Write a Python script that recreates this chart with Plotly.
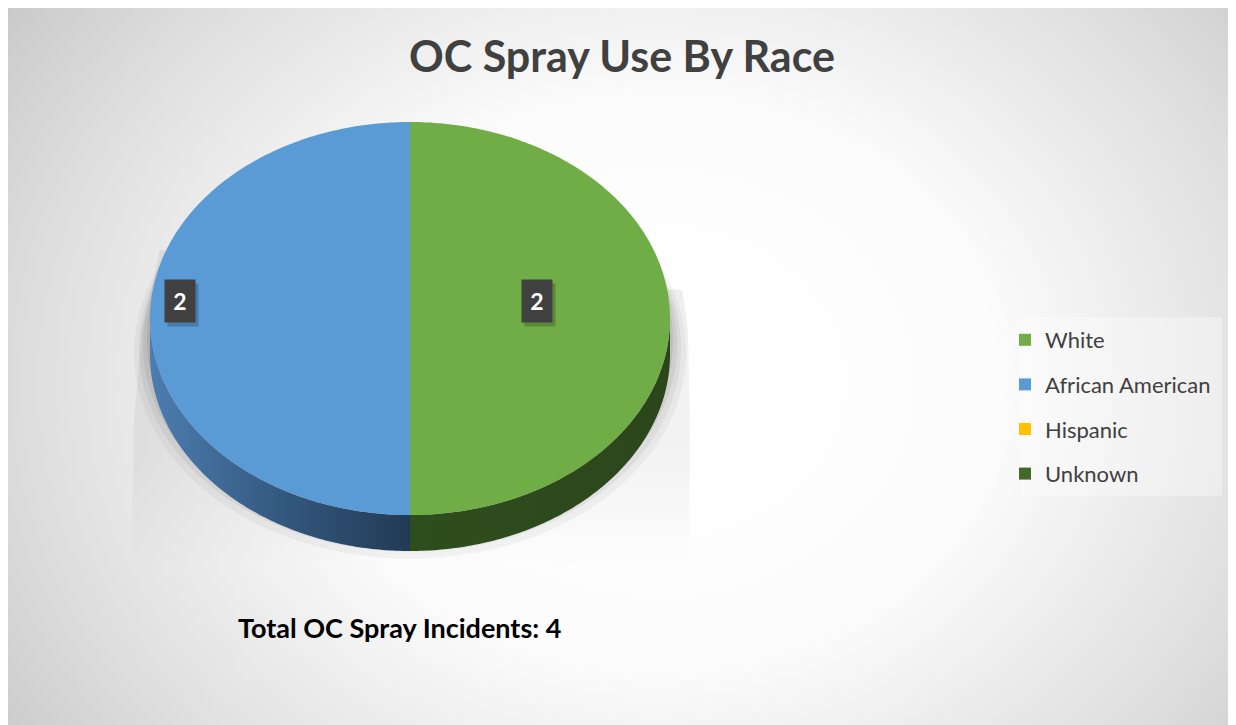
import base64
import numpy as np
import plotly.graph_objects as go

# ---------------- data ----------------
categories = ["White", "African American", "Hispanic", "Unknown"]
values = [2, 2, 0, 0]
chart_title = "OC Spray Use By Race"
total_prefix = "Total OC Spray Incidents: "

# ---------------- style ----------------
top_colors = ["#70ad47", "#5b9bd5", "#ffc000", "#43682b"]
side_scales = [
    [[0, "#2f4e1d"], [1, "#2b461b"]],
    [[0, "#4c7db0"], [0.5, "#34597f"], [1, "#223a55"]],
    [[0, "#bf9000"], [1, "#7f6000"]],
    [[0, "#2c4520"], [1, "#1e2f16"]],
]
label_radius = [0.49, 0.885, 0.7, 0.7]

# page has an 8px body margin; axes are mapped to screen pixels
OFF = 8
W, H = 1236 - OFF, 725 - OFF
CX, CY, RX, RY, DEPTH = 410, 318.5, 260, 196.5, 36


def px(sx):
    return (sx - OFF) / W


def py(sy):
    return 1 - (sy - OFF) / H


def rim(theta, dy=0.0):
    return CX + RX * np.sin(theta), CY - RY * np.cos(theta) + dy


fig = go.Figure()

# --- soft shadow behind the pie ---
sx = [160, 142, 134, 131, 689, 690, 688, 682]
sy = [250, 330, 420, 568, 568, 430, 330, 290]
fig.add_trace(go.Scatter(
    x=sx, y=sy, fill="toself", mode="none", hoverinfo="skip", showlegend=False,
    fillgradient=dict(type="vertical",
                      colorscale=[[0, "rgba(0,0,0,0)"], [0.35, "rgba(0,0,0,0.045)"],
                                  [1, "rgba(0,0,0,0.07)"]]),
))
for grow, off, alpha in [(16, 34, 0.04), (11, 30, 0.05), (7, 26, 0.06), (3, 22, 0.07)]:
    t = np.linspace(0, 2 * np.pi, 240)
    ex = CX + (RX + grow) * np.sin(t)
    ey = np.minimum(CY + off - (RY + grow * 0.6) * np.cos(t), 568)
    fig.add_trace(go.Scatter(x=ex, y=ey, fill="toself", mode="none", hoverinfo="skip",
                             showlegend=False, fillcolor=f"rgba(0,0,0,{alpha})"))

total = sum(values)
cum = np.concatenate([[0], np.cumsum(values)]) / total * 2 * np.pi

# --- side walls (front half only) ---
for i, cat in enumerate(categories):
    a, b = cum[i], cum[i + 1]
    if b <= a:
        continue
    lo, hi = max(a, np.pi / 2), min(b, 3 * np.pi / 2)
    if hi <= lo:
        continue
    t = np.linspace(lo, hi, 120)
    x1, y1 = rim(t)
    x2, y2 = rim(t[::-1], DEPTH)
    fig.add_trace(go.Scatter(
        x=np.concatenate([x1, x2]), y=np.concatenate([y1, y2]),
        fill="toself", mode="none", hoverinfo="skip", showlegend=False,
        fillgradient=dict(type="horizontal", colorscale=side_scales[i]),
    ))

# --- top faces ---
for i, cat in enumerate(categories):
    a, b = cum[i], cum[i + 1]
    if b <= a:
        continue
    t = np.linspace(a, b, 200)
    x, y = rim(t)
    fig.add_trace(go.Scatter(
        x=np.concatenate([[CX], x, [CX]]), y=np.concatenate([[CY], y, [CY]]),
        fill="toself", mode="none", fillcolor=top_colors[i], showlegend=False,
        name=cat, hoveron="fills", hoverinfo="name",
    ))

# --- data labels ---
for i, cat in enumerate(categories):
    a, b = cum[i], cum[i + 1]
    if b <= a:
        continue
    mid = (a + b) / 2
    lx = CX + RX * label_radius[i] * np.sin(mid)
    ly = CY - RY * label_radius[i] * np.cos(mid) - 18
    fig.add_annotation(x=lx + 3, y=ly + 4, xref="x", yref="y", text=" ",
                       showarrow=False, width=30, height=42, borderpad=0,
                       bgcolor="rgba(0,0,0,0.2)")
    fig.add_annotation(x=lx, y=ly, xref="x", yref="y",
                       text=f"<b>{values[i]}</b>", showarrow=False,
                       width=30, height=42, borderpad=0, bgcolor="#404040",
                       font=dict(family="Lato", size=23, color="white"))

# --- legend entries ---
for i, cat in enumerate(categories):
    fig.add_trace(go.Scatter(
        x=[None], y=[None], mode="markers", name=cat, legendgroup=cat,
        marker=dict(symbol="square", size=14, color=top_colors[i]),
    ))

# --- background gradient ---
svg = (
    f'<svg xmlns="http://www.w3.org/2000/svg" width="{W}" height="{H}" viewBox="0 0 {W} {H}">'
    '<defs><radialGradient id="g" gradientUnits="userSpaceOnUse" cx="650" cy="375" r="700" '
    'gradientTransform="translate(650 375) scale(1.2 1) translate(-650 -375)">'
    '<stop offset="0" stop-color="#ffffff"/><stop offset="0.4" stop-color="#fcfcfc"/>'
    '<stop offset="0.75" stop-color="#dedede"/><stop offset="1" stop-color="#c4c4c4"/>'
    f'</radialGradient></defs><rect width="{W}" height="{H}" fill="url(#g)"/></svg>'
)
src = "data:image/svg+xml;base64," + base64.b64encode(svg.encode()).decode()
fig.add_layout_image(source=src, xref="paper", yref="paper", x=0, y=1,
                     sizex=1, sizey=1, xanchor="left", yanchor="top",
                     sizing="stretch", layer="below")

# legend background panel
fig.add_shape(type="rect", xref="x", yref="y", x0=1022, x1=1222, y0=317, y1=496,
              fillcolor="rgba(255,255,255,0.35)", line=dict(width=0), layer="below")

fig.add_annotation(x=399, y=627, xref="x", yref="y", showarrow=False,
                   text=f"<b>{total_prefix}{total}</b>",
                   font=dict(family="Lato", size=27, color="black"))

fig.update_layout(
    width=W, height=H,
    margin=dict(l=0, r=0, t=0, b=0),
    paper_bgcolor="white", plot_bgcolor="rgba(0,0,0,0)",
    title=dict(text=f"<b>{chart_title}</b>", x=px(622), xanchor="center",
               y=py(57), yanchor="middle",
               font=dict(family="Lato", size=43, color="#404040")),
    xaxis=dict(range=[OFF, OFF + W], visible=False, fixedrange=True),
    yaxis=dict(range=[OFF + H, OFF], visible=False, fixedrange=True),
    showlegend=True,
    legend=dict(x=px(1005), xanchor="left", y=py(319), yanchor="top",
                bgcolor="rgba(0,0,0,0)", font=dict(family="Lato", size=22, color="#404040"),
                tracegroupgap=13, traceorder="grouped", itemsizing="constant"),
    hovermode="closest",
)

fig.write_html("out.html")
